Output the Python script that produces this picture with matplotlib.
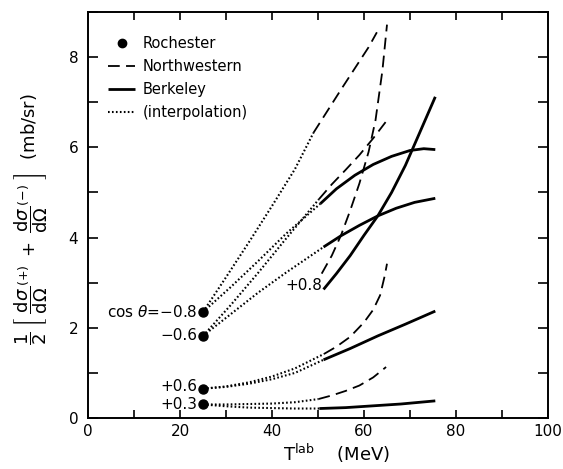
import matplotlib
matplotlib.use("Agg")
import matplotlib.pyplot as plt
from matplotlib.lines import Line2D
from matplotlib.ticker import MultipleLocator

plt.rcParams['font.family'] = ['DejaVu Sans']
plt.rcParams['mathtext.fontset'] = 'dejavusans'

# ---------------- data ----------------
rochester_T = [25, 25, 25, 25]
rochester_y = [2.35, 1.82, 0.65, 0.30]
rochester_labels = ['cos $\\theta$=\u22120.8', '\u22120.6', '+0.6', '+0.3']
rochester_label_y = [2.35, 1.83, 0.70, 0.31]

# Northwestern (dashed)
nw_m08_T = [49.0, 52, 55, 58, 61, 62.8]
nw_m08_y = [6.32, 6.80, 7.28, 7.75, 8.22, 8.55]
nw_m06_T = [50.2, 53, 56, 59, 62, 65]
nw_m06_y = [4.85, 5.18, 5.50, 5.83, 6.20, 6.60]
nw_p08_T = [50.8, 53, 55, 57, 59, 61, 62.5, 64, 65.0]
nw_p08_y = [3.20, 3.60, 4.05, 4.60, 5.20, 5.90, 6.60, 7.70, 8.72]
nw_p06_T = [51.3, 54, 57, 60, 62, 63.5, 64.5, 65.0]
nw_p06_y = [1.42, 1.58, 1.80, 2.12, 2.40, 2.72, 3.15, 3.42]
nw_p03_T = [50.1, 53, 56, 59, 62, 64.8]
nw_p03_y = [0.42, 0.50, 0.60, 0.72, 0.90, 1.13]

# Berkeley (solid)
bk_m08_T = [50.5, 54, 58, 62, 66, 70, 73, 75.5]
bk_m08_y = [4.75, 5.08, 5.38, 5.62, 5.80, 5.93, 5.97, 5.95]
bk_m06_T = [51.2, 55, 59, 63, 67, 71, 75.5]
bk_m06_y = [3.79, 4.04, 4.27, 4.48, 4.65, 4.78, 4.87]
bk_p08_T = [51.2, 54, 57, 60, 63, 66, 69, 72, 75.5]
bk_p08_y = [2.85, 3.20, 3.60, 4.05, 4.48, 5.00, 5.60, 6.30, 7.12]
bk_p06_T = [51.2, 57, 63, 69, 75.5]
bk_p06_y = [1.29, 1.54, 1.82, 2.08, 2.37]
bk_p03_T = [50.3, 56, 62, 68, 75.5]
bk_p03_y = [0.21, 0.23, 0.27, 0.31, 0.38]

# interpolation (dotted)
in_m08_nw_T = [25, 30, 35, 40, 45, 49.0]
in_m08_nw_y = [2.35, 3.12, 3.90, 4.70, 5.52, 6.32]
in_m08_bk_T = [25, 31, 37, 43, 50.5]
in_m08_bk_y = [2.35, 2.90, 3.48, 4.08, 4.75]
in_m06_nw_T = [25, 31, 37, 43, 50.2]
in_m06_nw_y = [1.82, 2.50, 3.22, 3.97, 4.85]
in_m06_bk_T = [25, 31, 37, 43, 51.2]
in_m06_bk_y = [1.82, 2.30, 2.78, 3.22, 3.79]
in_p06_nw_T = [25, 30, 35, 40, 45, 51.3]
in_p06_nw_y = [0.65, 0.70, 0.79, 0.92, 1.10, 1.42]
in_p06_bk_T = [25, 30, 35, 40, 45, 51.2]
in_p06_bk_y = [0.65, 0.69, 0.76, 0.86, 1.00, 1.29]
in_p03_nw_T = [25, 30, 35, 40, 45, 50.1]
in_p03_nw_y = [0.30, 0.30, 0.31, 0.32, 0.35, 0.42]
in_p03_bk_T = [25, 30, 35, 40, 45, 50.3]
in_p03_bk_y = [0.30, 0.26, 0.23, 0.22, 0.21, 0.21]

label_p08 = '+0.8'
label_p08_pos = (50.9, 2.94)

xticks_major = [0, 20, 40, 60, 80, 100]
yticks_major = [0, 2, 4, 6, 8]

# ---------------- figure ----------------
fig = plt.figure(figsize=(5.63, 4.69), dpi=100)
ax = fig.add_axes([88/563, 1-418/469, 460/563, 406/469])
ax.set_xlim(0, 100)
ax.set_ylim(0, 9)

k = 'black'
dash_style = dict(color=k, lw=1.3, linestyle=(0, (6.5, 3.5)), dash_capstyle='butt')
solid_style = dict(color=k, lw=2.0, solid_capstyle='butt')
dot_style = dict(color=k, lw=1.5, linestyle=(0, (0.8, 1.1)))

for T, y in [(nw_m08_T, nw_m08_y), (nw_m06_T, nw_m06_y), (nw_p08_T, nw_p08_y),
             (nw_p06_T, nw_p06_y), (nw_p03_T, nw_p03_y)]:
    ax.plot(T, y, **dash_style)
for T, y in [(bk_m08_T, bk_m08_y), (bk_m06_T, bk_m06_y), (bk_p08_T, bk_p08_y),
             (bk_p06_T, bk_p06_y), (bk_p03_T, bk_p03_y)]:
    ax.plot(T, y, **solid_style)
for T, y in [(in_m08_nw_T, in_m08_nw_y), (in_m08_bk_T, in_m08_bk_y),
             (in_m06_nw_T, in_m06_nw_y), (in_m06_bk_T, in_m06_bk_y),
             (in_p06_nw_T, in_p06_nw_y), (in_p06_bk_T, in_p06_bk_y),
             (in_p03_nw_T, in_p03_nw_y), (in_p03_bk_T, in_p03_bk_y)]:
    ax.plot(T, y, **dot_style)

ax.plot(rochester_T, rochester_y, 'o', color=k, ms=6.5, zorder=5)

for T, yl, txt in zip(rochester_T, rochester_label_y, rochester_labels):
    ax.text(T - 1.3, yl, txt, ha='right', va='center', fontsize=11)
ax.text(label_p08_pos[0], label_p08_pos[1], label_p08, ha='right', va='center', fontsize=11)

# axes styling
for s in ax.spines.values():
    s.set_linewidth(1.4)
ax.xaxis.set_major_locator(MultipleLocator(20))
ax.xaxis.set_minor_locator(MultipleLocator(10))
ax.yaxis.set_major_locator(MultipleLocator(2))
ax.yaxis.set_minor_locator(MultipleLocator(1))
ax.set_xticks(xticks_major)
ax.set_yticks(yticks_major)
ax.tick_params(which='both', direction='in', top=True, right=True, width=1.2)
ax.tick_params(axis='x', which='both', length=5.5)
ax.tick_params(axis='y', which='both', length=7)
ax.tick_params(axis='x', which='major', pad=4, labelsize=11)
ax.tick_params(axis='y', which='major', pad=7, labelsize=11)

ax.set_xlabel('T$^{\\mathrm{lab}}$    (MeV)', fontsize=13)
ax.xaxis.set_label_coords(0.54, -0.058)
ax.set_ylabel(r'$\dfrac{1}{2}\;\left[\;\dfrac{\mathrm{d}\sigma}{\mathrm{d}\Omega}^{(+)}\;+\;'
              r'\dfrac{\mathrm{d}\sigma}{\mathrm{d}\Omega}^{(-)}\;\right]$  (mb/sr)',
              fontsize=13)
ax.yaxis.set_label_coords(-0.083, 0.49)

handles = [Line2D([], [], marker='o', color=k, linestyle='none', ms=6),
           Line2D([], [], **dash_style),
           Line2D([], [], **solid_style),
           Line2D([], [], **dot_style)]
labels = ['Rochester', 'Northwestern', 'Berkeley', '(interpolation)']
ax.legend(handles, labels, loc='upper left', bbox_to_anchor=(0.043, 0.94), frameon=False,
          fontsize=10.5, handlelength=1.9, handletextpad=0.5, labelspacing=0.55,
          borderpad=0, borderaxespad=0)

fig.savefig('out.png', dpi=100)
